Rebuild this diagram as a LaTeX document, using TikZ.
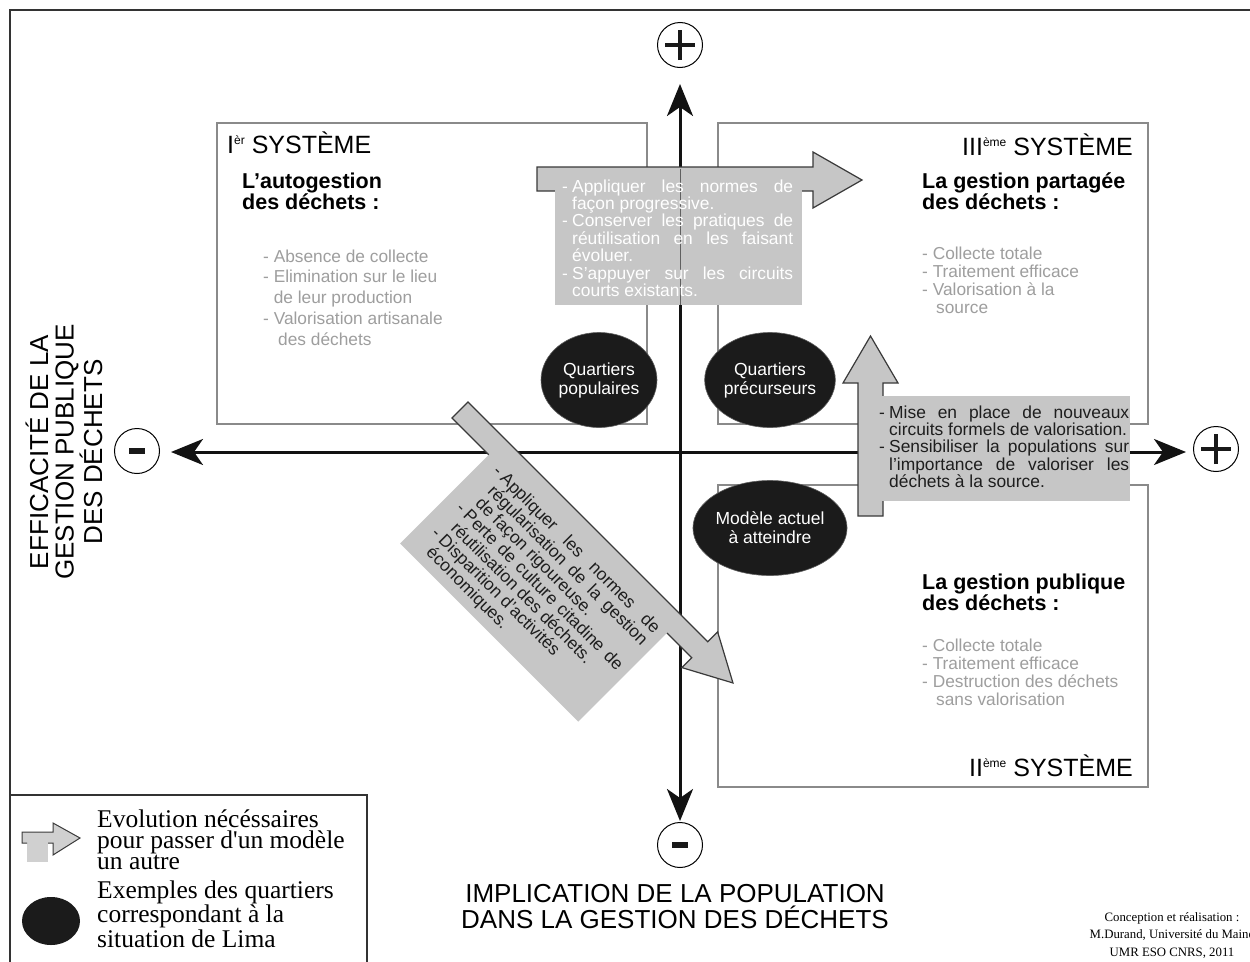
\documentclass[tikz,border=0pt]{standalone}
\usepackage{fontspec}
\setmainfont{Liberation Sans}
\newfontfamily\legendfont{Liberation Serif}
\usetikzlibrary{arrows.meta,shapes.geometric}
\definecolor{boxgray}{HTML}{8A8A8A}
\definecolor{arrowfill}{HTML}{C6C6C6}
\definecolor{legendgray}{HTML}{D0D0D0}
\definecolor{arrowline}{HTML}{3A3A3A}
\definecolor{listgray}{HTML}{9E9E9E}
\definecolor{framecol}{HTML}{333333}
\definecolor{blob}{HTML}{1B1B1B}
\definecolor{boxtext}{HTML}{1E1E1E}
\newcommand\fsz[2]{\fontsize{#1}{#2}\selectfont}
\newcommand\nohyph{\hyphenpenalty=10000 \exhyphenpenalty=10000 \tolerance=10000 \emergencystretch=20pt\relax}
\newcommand\dashitem[1]{\hangindent=10pt\hangafter=1\noindent\makebox[10pt][l]{-}#1\par}
\newcommand\supx[1]{\raisebox{8.5pt}{\fsz{12}{12}#1}}
\tikzset{
  sysbox/.style={draw=boxgray, line width=2.5pt, rectangle, inner sep=0pt},
  axisline/.style={line width=3pt, draw=black!93, {Stealth[length=32pt,width=26pt,inset=9pt]}-{Stealth[length=32pt,width=26pt,inset=9pt]}},
  signcircle/.style={circle, draw=black, line width=1pt, minimum size=45pt, inner sep=0pt},
  signbar/.style={line width=4pt, draw=black!90},
  blobnode/.style={ellipse, fill=blob, draw=blob!70!white, line width=0.6pt, minimum width=116pt, minimum height=95pt, inner sep=0pt, text=white, align=center, font=\fsz{17.5}{19}},
  bigarrow/.style={fill=arrowfill, draw=arrowline, line width=1.2pt, line join=miter},
  notebox/.style={fill=arrowfill},
  notetext/.style={inner sep=0pt, align=justify, font=\fsz{17.4}{17.4}},
  systitle/.style={inner sep=0pt, font=\fsz{25}{25}},
  heading/.style={inner sep=0pt, align=left, font=\fsz{21.5}{20.5}\bfseries},
  featlist/.style={inner sep=0pt, align=left, text=listgray, font=\fsz{17.3}{17.8}},
  axislabel/.style={inner sep=0pt, align=center, font=\fsz{26}{25.5}},
  legendtext/.style={inner sep=0pt, align=left, font=\legendfont\fsz{25.5}{20.8}},
  credit/.style={inner sep=0pt, align=center, font=\legendfont\fsz{12.8}{17.5}},
  framepath/.style={draw=framecol, line width=1.5pt}
}
\begin{document}
\begin{tikzpicture}[x=1pt,y=-1pt]
\useasboundingbox (0,0) rectangle (1250,961);
\fill[white] (0,0) rectangle (1250,961);
\draw[framepath] (10,962) -- (10,10) -- (1251,10);

% system boxes
\node[sysbox, minimum width=430pt, minimum height=301pt] (sysI) at (432,273.5) {};
\node[sysbox, minimum width=430pt, minimum height=301pt] (sysIII) at (933,273.5) {};
\node[sysbox, minimum width=430pt, minimum height=302pt] (sysII) at (933,636) {};

% axes
\coordinate (vtop) at (680,84);
\coordinate (vbot) at (680,821);
\coordinate (hleft) at (171,452);
\coordinate (hright) at (1186,452);
\draw[axisline] (vbot) -- (vtop);
\draw[axisline] (hleft) -- (hright);

% signs
\node[signcircle] (plustop) at (680,45) {};
\draw[signbar, line width=3.5pt] ([yshift=-15pt]plustop.center) -- ([yshift=15pt]plustop.center);
\draw[signbar, line width=4.5pt] ([xshift=-15pt]plustop.center) -- ([xshift=15pt]plustop.center);
\node[signcircle] (plusright) at (1216,449) {};
\draw[signbar, line width=3.5pt] ([yshift=-15pt]plusright.center) -- ([yshift=15pt]plusright.center);
\draw[signbar, line width=4.5pt] ([xshift=-15pt]plusright.center) -- ([xshift=15pt]plusright.center);
\node[signcircle] (minusleft) at (137,451) {};
\draw[signbar, line width=6pt] ([xshift=-8pt]minusleft.center) -- ([xshift=8pt]minusleft.center);
\node[signcircle] (minusbot) at (680,845) {};
\draw[signbar, line width=6pt] ([xshift=-8pt]minusbot.center) -- ([xshift=8pt]minusbot.center);

% ellipses
\node[blobnode] (popul) at (599,380) {Quartiers\\populaires};
\node[blobnode] (precur) at (770,380) {Quartiers\\précurseurs};
\node[blobnode] (modele) at (770,528) {Modèle actuel\\à atteindre};

% central arrow (I -> III)
\draw[bigarrow] (537,167) -- (813,167) -- (813,152) -- (862,180) -- (813,208) -- (813,191) -- (537,191) -- cycle;
\fill[notebox] (555,168.2) rectangle (802,305);
\draw[gray!75!black, line width=0.8pt] (680,168.5) -- (680,305);
\node[notetext, text=white, text width=231pt, anchor=base west] (noteA) at (562,192)
 {\nohyph\dashitem{Appliquer les normes de façon progressive.}\dashitem{Conserver les pratiques de réutilisation en les faisant évoluer.}\dashitem{S'appuyer sur les circuits courts existants.}};

% right arrow (II -> III)
\draw[bigarrow] (858,516) -- (858,383) -- (843,383) -- (870.5,336) -- (898,383) -- (883,383) -- (883,516) -- cycle;
\fill[notebox] (882.2,396) rectangle (1130,501);
\node[notetext, text=boxtext, text width=250pt, anchor=base west] (noteB) at (879,418)
 {\nohyph\dashitem{Mise en place de nouveaux circuits formels de valorisation.}\dashitem{Sensibiliser la populations sur l'importance de valoriser les déchets à la source.}};

% diagonal arrow (I -> II)
\begin{scope}[shift={(468,402)}, rotate=-45]
\draw[bigarrow] (0,0) -- (339,0) -- (339,-14) -- (386,11.3) -- (339,36.6) -- (339,22.6) -- (0,22.6) -- cycle;
\fill[notebox] (52,1.2) rectangle (304,148);
\node[notetext, text=boxtext, text width=228pt, anchor=base west, transform shape] (noteC) at (67,33)
 {\nohyph\dashitem{Appliquer les normes de régularisation de la gestion de façon rigoureuse.}\dashitem{Perte de culture citadine de réutilisation des déchets.}\dashitem{Disparition d'activités\newline économiques.}};
\end{scope}

% titles
\node[systitle, anchor=base west] (t1) at (227,153) {I\supx{èr} SYSTÈME};
\node[systitle, anchor=base east] (t3) at (1133,155) {III\supx{ème} SYSTÈME};
\node[systitle, anchor=base east] (t2) at (1133,776) {II\supx{ème} SYSTÈME};

% headings (anchored at the last line)
\node[heading, anchor=base west] (h1) at (242,209) {L'autogestion\\des déchets :};
\node[heading, anchor=base west] (h3) at (922,209) {La gestion partagée\\des déchets :};
\node[heading, anchor=base west] (h2) at (922,610) {La gestion publique\\des déchets :};

% feature lists (anchored at the last line)
\node[featlist, anchor=base west, font=\fsz{17.3}{20.7}] (l1) at (263,345)
 {- Absence de collecte\\- Elimination sur le lieu\\\hphantom{- }de leur production\\- Valorisation artisanale\\\hspace*{15pt}des déchets};
\node[featlist, anchor=base west] (l3) at (922,313)
 {- Collecte totale\\- Traitement efficace\\- Valorisation à la\\\hspace*{14pt}source};
\node[featlist, anchor=base west] (l2) at (922,705)
 {- Collecte totale\\- Traitement efficace\\- Destruction des déchets\\\hspace*{14pt}sans valorisation};

% axis labels
\node[axislabel, rotate=90] (ylab) at (64,452) {EFFICACITÉ DE LA\\GESTION PUBLIQUE\\DES DÉCHETS};
\node[axislabel, anchor=base] (xlab) at (675,928) {IMPLICATION DE LA POPULATION\\DANS LA GESTION DES DÉCHETS};

% legend
\draw[framepath] (10,795) -- (367,795) -- (367,962);
\fill[legendgray] (22,843) -- (22,832) -- (53,832) -- (53,823) -- (80,838) -- (53,855) -- (53,843) -- cycle;
\fill[legendgray] (27,843) rectangle (48,862);
\draw[draw=arrowline, line width=1pt, line join=miter] (27,843) -- (22,843) -- (22,832) -- (53,832) -- (53,823) -- (80,838) -- (53,855) -- (53,843) -- (48,843);
\node[ellipse, fill=blob, minimum width=58pt, minimum height=48pt, inner sep=0pt] (legblob) at (51,921) {};
\node[legendtext, anchor=base west] (leg1) at (97,869) {Evolution nécéssaires\\pour passer d'un modèle\\un autre};
\node[legendtext, anchor=base west] (leg2) at (97,947) {Exemples des quartiers\\correspondant à la\\situation de Lima};

% credits
\node[credit, anchor=base] (cred) at (1172,956) {Conception et réalisation :\\M.Durand, Université du Maine\\UMR ESO CNRS, 2011};
\end{tikzpicture}
\end{document}
